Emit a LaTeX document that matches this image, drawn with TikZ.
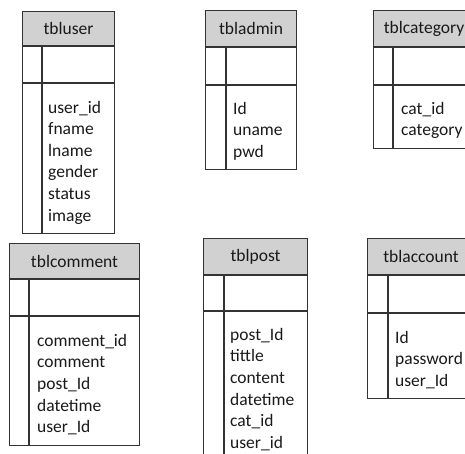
\documentclass[tikz,border=0pt]{standalone}
\usepackage{fontspec}
\setmainfont{Carlito}
\usepackage{tikz}
\usetikzlibrary{positioning,calc}

\begin{document}
\begin{tikzpicture}[
  x=1pt,y=-1pt,
  font=\fontsize{17.5}{21.6}\selectfont,
  head/.style={draw=black!80,line width=1.1pt,fill=black!18,anchor=north west,inner sep=0pt,text=black!90},
  cell/.style={draw=black!80,line width=1.1pt,anchor=north west,inner sep=0pt},
  rule/.style={draw=black!80,line width=1.1pt},
  field/.style={anchor=base west,inner sep=0pt,text=black!90},
]
  \useasboundingbox (0,0) rectangle (465,454);
  \clip (0,0) rectangle (465,454);
  % tbluser
  \node[head,minimum width=92pt,minimum height=34pt] (user) at (22,11) {tbluser};
  \node[cell,minimum width=92pt,minimum height=36pt] (userK) at (user.south west) {};
  \node[cell,minimum width=92pt,minimum height=150pt] (userB) at (userK.south west) {};
  \draw[rule] ($(userK.north west)+(20,0)$) -- ($(userB.south west)+(20,0)$);
  \foreach \f [count=\i] in {user\_id,fname,lname,gender,status,image}
    \node[field] (user\i) at ($(userB.north west)+(26,30+21.6*\i-21.6)$) {\f};
  % tbladmin
  \node[head,minimum width=91pt,minimum height=36pt] (admin) at (205,10) {tbladmin};
  \node[cell,minimum width=91pt,minimum height=37pt] (adminK) at (admin.south west) {};
  \node[cell,minimum width=91pt,minimum height=84pt] (adminB) at (adminK.south west) {};
  \draw[rule] ($(adminK.north west)+(21,0)$) -- ($(adminB.south west)+(21,0)$);
  \foreach \f [count=\i] in {Id,uname,pwd}
    \node[field] (admin\i) at ($(adminB.north west)+(28,29+21.6*\i-21.6)$) {\f};
  % tblcategory
  \node[head,minimum width=101pt,minimum height=36pt] (cat) at (373,10) {tblcategory};
  \node[cell,minimum width=101pt,minimum height=37pt] (catK) at (cat.south west) {};
  \node[cell,minimum width=101pt,minimum height=63pt] (catB) at (catK.south west) {};
  \draw[rule] ($(catK.north west)+(20,0)$) -- ($(catB.south west)+(20,0)$);
  \foreach \f [count=\i] in {cat\_id,category}
    \node[field] (cat\i) at ($(catB.north west)+(28,29+21.6*\i-21.6)$) {\f};
  % tblcomment
  \node[head,minimum width=130pt,minimum height=35pt] (comment) at (9,243) {tblcomment};
  \node[cell,minimum width=130pt,minimum height=36pt] (commentK) at (comment.south west) {};
  \node[cell,minimum width=130pt,minimum height=129pt] (commentB) at (commentK.south west) {};
  \draw[rule] ($(commentK.north west)+(20,0)$) -- ($(commentB.south west)+(20,0)$);
  \foreach \f [count=\i] in {comment\_id,comment,post\_Id,datetime,user\_Id}
    \node[field] (comment\i) at ($(commentB.north west)+(28,30+21.6*\i-21.6)$) {\f};
  % tblpost
  \node[head,minimum width=104pt,minimum height=36pt] (post) at (203,238) {tblpost};
  \node[cell,minimum width=104pt,minimum height=35pt] (postK) at (post.south west) {};
  \node[cell,minimum width=104pt,minimum height=170pt] (postB) at (postK.south west) {};
  \draw[rule] ($(postK.north west)+(21,0)$) -- ($(postB.south west)+(21,0)$);
  \foreach \f [count=\i] in {post\_Id,tittle,content,datetime,cat\_id,user\_id}
    \node[field] (post\i) at ($(postB.north west)+(27,29+21.6*\i-21.6)$) {\f};
  % tblaccount
  \node[head,minimum width=107pt,minimum height=36pt] (account) at (367,238) {tblaccount};
  \node[cell,minimum width=107pt,minimum height=37pt] (accountK) at (account.south west) {};
  \node[cell,minimum width=107pt,minimum height=85pt] (accountB) at (accountK.south west) {};
  \draw[rule] ($(accountK.north west)+(21,0)$) -- ($(accountB.south west)+(21,0)$);
  \foreach \f [count=\i] in {Id,password,user\_Id}
    \node[field] (account\i) at ($(accountB.north west)+(28,30+21.6*\i-21.6)$) {\f};
\end{tikzpicture}
\end{document}
